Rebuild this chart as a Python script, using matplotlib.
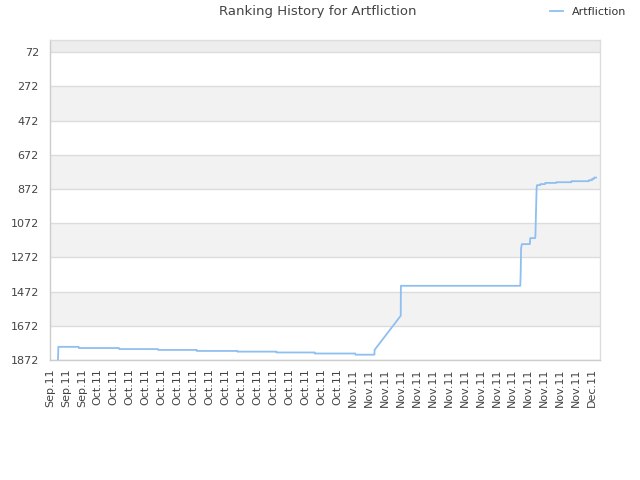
import matplotlib
matplotlib.use("Agg")
import matplotlib.pyplot as plt
import pandas as pd
import numpy as np

title = "Ranking History for Artfliction"
series_name = "Artfliction"

# data: days offset from 2011-09-25, rank
days = [1.0, 1.05, 3.6, 3.62, 8.66, 8.68, 13.55, 13.57, 18.4, 18.42, 23.5, 23.52,
        28.4, 28.42, 33.2, 33.22, 38.3, 38.32, 40.7, 40.72, 44.0, 44.02, 59.0, 59.05,
        59.1, 59.2, 60.2, 60.25, 60.85, 60.9, 60.95, 61.05, 61.1, 61.5, 61.52, 62.1,
        62.12, 63.5, 63.52, 65.4, 65.42, 67.6, 67.62, 68.0, 68.02, 68.25, 68.27, 68.5]
ranks = [1872, 1795, 1795, 1802, 1802, 1808, 1808, 1813, 1813, 1819, 1819, 1823,
         1823, 1828, 1828, 1834, 1834, 1841, 1841, 1813, 1613, 1438, 1438, 1363,
         1217, 1194, 1194, 1159, 1159, 1147, 1042, 867, 849, 849, 843, 843,
         836, 836, 832, 832, 826, 826, 820, 820, 812, 812, 805, 805]

base = pd.Timestamp("2011-09-25")
dates = [base + pd.Timedelta(days=d) for d in days]
tick_dates = [base + pd.Timedelta(days=2 * i) for i in range(35)]
tick_labels = [d.strftime("%b.%y") for d in tick_dates]
yticks = list(range(72, 1873, 200))

fig = plt.figure(figsize=(6.4, 4.8), dpi=100)
ax = fig.add_axes([50/640, 120/480, 550/640, 320/480])

# bands
ax.axhspan(0, 72, color="#ededed", zorder=0, lw=0)
for i, lo in enumerate(yticks[:-1]):
    if i % 2 == 1:
        ax.axhspan(lo, lo + 200, color="#f2f2f2", zorder=0, lw=0)
for y in yticks:
    ax.axhline(y, color="#dcdcdc", lw=1, zorder=1)

ax.plot(dates, ranks, color="#8fbff0", lw=1.3, zorder=3, label=series_name)

ax.set_ylim(1872, 0)
ax.set_xlim(base, base + pd.Timedelta(days=69))
ax.set_yticks(yticks)
ax.set_yticklabels([str(v) for v in yticks], fontsize=8, color="#444444")
ax.set_xticks(tick_dates)
ax.set_xticklabels(tick_labels, rotation=90, fontsize=8, color="#444444")
ax.tick_params(axis="both", length=0, pad=8)
ax.tick_params(axis="x", pad=6)
for s in ax.spines.values():
    s.set_color("#dddddd")
    s.set_linewidth(1)
ax.spines["left"].set_color("#cccccc")
ax.spines["bottom"].set_color("#cccccc")

fig.text(318/640, 1 - 12/480, title, ha="center", va="center", fontsize=9.5, color="#444444")
leg = fig.legend(loc="center left", bbox_to_anchor=(540/640, 1 - 12/480), frameon=False,
                 fontsize=8, handlelength=1.2, handletextpad=0.8)
for t in leg.get_texts():
    t.set_color("#333333")

fig.savefig("out.png", dpi=100)
